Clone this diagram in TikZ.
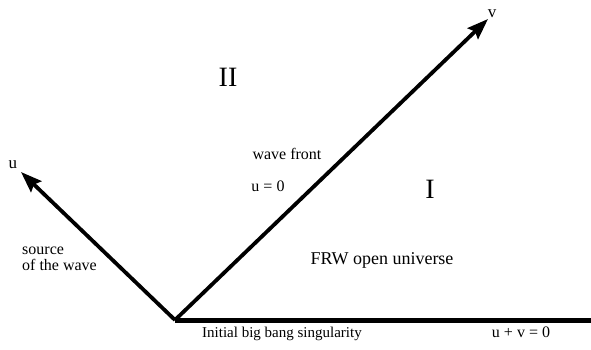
\documentclass[tikz,border=0pt]{standalone}
\usepackage{fontspec}
\setmainfont{Liberation Serif}
\usetikzlibrary{arrows.meta}
\begin{document}
\begin{tikzpicture}[x=1pt,y=-1pt,
  axis/.style={line width=3.8pt,-{Stealth[length=21pt,width=15pt,inset=3pt]}},
  lbl/.style={inner sep=0pt,font=\fontsize{15}{17}\selectfont},
  big/.style={inner sep=0pt,font=\fontsize{28}{30}\selectfont}]
\useasboundingbox (0,0) rectangle (591,349);
\coordinate (O) at (175,320);
\coordinate (U) at (21,172);
\coordinate (V) at (488,19);
\coordinate (E) at (591,320);
\draw[line width=5pt] (O) -- (E);
\draw[axis] (O) -- (U);
\draw[axis] (O) -- (V);
\node[lbl,font=\fontsize{17}{19}\selectfont] (ul) at (13,165) {u};
\node[lbl,font=\fontsize{17}{19}\selectfont] (vl) at (492,14) {v};
\node[big] (II) at (228,77) {II};
\node[big] (I) at (430,189) {I};
\node[lbl,font=\fontsize{16}{18}\selectfont] (wf) at (287,154) {wave front};
\node[lbl,font=\fontsize{16}{18}\selectfont] (u0) at (268,186) {u = 0};
\node[lbl,font=\fontsize{16}{16}\selectfont,align=left,anchor=north west] (src) at (22,247) {source\\of the wave};
\node[lbl,font=\fontsize{18}{20}\selectfont] (frw) at (382,260) {FRW open universe};
\node[lbl,anchor=base] (ibb) at (282,337) {Initial big bang singularity};
\node[lbl,font=\fontsize{16}{18}\selectfont,anchor=base] (uv) at (521,337) {u + v = 0};
\end{tikzpicture}
\end{document}
